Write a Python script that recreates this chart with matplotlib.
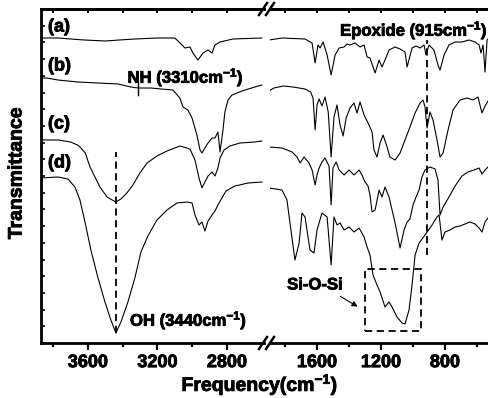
import numpy as np
import matplotlib
matplotlib.use("Agg")
import matplotlib.pyplot as plt
import matplotlib.patheffects as pe
from matplotlib.lines import Line2D
from matplotlib.patches import Rectangle

plt.rcParams['font.family'] = ['Liberation Sans', 'DejaVu Sans']
plt.rcParams['font.weight'] = 'bold'
plt.rcParams['mathtext.fontset'] = 'custom'
plt.rcParams['mathtext.rm'] = 'Liberation Sans:bold'
plt.rcParams['mathtext.bf'] = 'Liberation Sans:bold'
plt.rcParams['mathtext.it'] = 'Liberation Sans:bold'

# FTIR spectra: wavenumber (cm-1) and transmittance (a.u., stacked)
# high-frequency window
wn_a_hi = [3870, 3770, 3700, 3620, 3500, 3420, 3330, 3200, 3100, 3070, 3042, 3013, 2996, 2967,
           2938, 2909, 2886, 2869, 2840, 2766, 2600]
t_a_hi = [305, 305, 304, 303, 302, 303, 304, 305, 305, 300, 295, 296, 290, 283,
          290, 293, 290, 298, 301, 304, 305]

wn_b_hi = [3870, 3836, 3773, 3658, 3542, 3427, 3353, 3312, 3237, 3180, 3111, 3071, 3053, 3025,
           3001, 2973, 2955, 2944, 2927, 2909, 2886, 2869, 2852, 2840, 2823, 2812, 2794, 2771,
           2714, 2639, 2600]
t_b_hi = [265, 265, 263, 261, 260, 259, 256, 255, 255, 254, 253, 245, 236, 233,
          225, 208, 193, 190, 195, 200, 205, 205, 211, 191, 213, 231, 243, 248,
          252, 256, 258]

wn_c_hi = [3870, 3770, 3700, 3660, 3646, 3615, 3588, 3531, 3490, 3440, 3410, 3376, 3341, 3301,
           3260, 3203, 3145, 3071, 3013, 2984, 2961, 2944, 2927, 2909, 2886, 2869, 2852, 2840,
           2817, 2783, 2725, 2640, 2600]
t_c_hi = [203, 203, 201, 198, 196, 190, 176, 156, 146, 141, 144, 150, 158, 170,
          180, 187, 192, 197, 194, 183, 165, 155, 161, 167, 171, 167, 175, 185,
          193, 197, 200, 201, 202]

wn_d_hi = [3870, 3773, 3715, 3675, 3646, 3617, 3583, 3542, 3502, 3468, 3439, 3410, 3370, 3330,
           3295, 3255, 3203, 3145, 3088, 3030, 3001, 2984, 2961, 2944, 2927, 2909, 2886, 2869,
           2852, 2829, 2806, 2754, 2679, 2599]
t_d_hi = [165, 166, 164, 156, 143, 121, 93, 65, 41, 23, 10, 21, 41, 65,
          91, 107, 123, 133, 140, 141, 140, 128, 118, 121, 112, 122, 128, 132,
          138, 145, 152, 157, 160, 161]

# fingerprint window
wn_a_lo = [1900, 1819, 1675, 1631, 1612, 1594, 1581, 1562, 1537, 1512, 1487, 1462, 1431, 1412,
           1394, 1362, 1331, 1306, 1287, 1269, 1237, 1212, 1194, 1175, 1150, 1112, 1081, 1050,
           1037, 1006, 981, 956, 931, 919, 900, 869, 844, 831, 806, 775, 737, 694, 650, 612,
           587, 575, 562, 550, 537, 525]
t_a_lo = [303, 305, 304, 300, 280, 298, 295, 301, 288, 268, 288, 295, 296, 299,
          298, 300, 296, 298, 286, 285, 270, 283, 276, 283, 293, 296, 294, 291,
          276, 295, 297, 295, 298, 288, 298, 293, 278, 273, 288, 298, 301, 301, 303, 301,
          298, 290, 298, 271, 303, 305]

wn_b_lo = [1900, 1870, 1810, 1750, 1675, 1640, 1625, 1612, 1600, 1587, 1569, 1550, 1530, 1512,
           1494, 1475, 1456, 1437, 1418, 1394, 1369, 1350, 1331, 1306, 1281, 1256, 1244, 1225,
           1206, 1187, 1162, 1144, 1112, 1081, 1050, 1019, 987, 956, 937, 925, 912, 894, 875,
           850, 831, 812, 781, 750, 706, 662, 625, 594, 569, 550, 531]
t_b_lo = [252, 255, 257, 256, 254, 251, 245, 213, 238, 244, 237, 246, 231, 186,
          226, 238, 218, 207, 225, 235, 240, 230, 241, 228, 220, 211, 193, 186,
          200, 208, 196, 186, 183, 190, 203, 216, 230, 240, 243, 236, 215, 231, 223,
          203, 186, 190, 213, 233, 243, 245, 243, 246, 230, 237, 242]

wn_c_lo = [1900, 1819, 1756, 1725, 1706, 1681, 1650, 1631, 1612, 1600, 1587, 1569, 1550, 1525,
           1512, 1500, 1481, 1462, 1431, 1400, 1369, 1337, 1319, 1300, 1281, 1269, 1256, 1237,
           1212, 1194, 1175, 1150, 1131, 1112, 1081, 1056, 1037, 1019, 1000, 981, 962, 944,
           925, 894, 862, 844, 831, 812, 775, 737, 694, 656, 619, 587, 569, 550, 531]
t_c_lo = [196, 195, 191, 186, 180, 186, 180, 173, 158, 168, 175, 181, 185, 177,
          138, 175, 181, 173, 168, 173, 168, 173, 168, 161, 157, 148, 131, 133,
          153, 146, 156, 146, 133, 120, 95, 113, 121, 124, 138, 146, 153, 166,
          173, 176, 174, 163, 128, 136, 146, 157, 167, 171, 173, 175, 169, 173, 176]

wn_d_lo = [1900, 1819, 1788, 1769, 1738, 1712, 1694, 1675, 1644, 1619, 1600, 1569, 1537, 1512,
           1494, 1475, 1456, 1431, 1400, 1369, 1337, 1306, 1287, 1269, 1250, 1225, 1206, 1175,
           1150, 1131, 1100, 1069, 1050, 1025, 1006, 987, 962, 925, 881, 850, 837, 819, 800,
           769, 737, 706, 675, 644, 612, 587, 569, 550, 531]
t_d_lo = [155, 153, 143, 120, 83, 100, 130, 126, 93, 90, 113, 130, 126, 78,
          126, 118, 120, 113, 116, 111, 115, 106, 96, 88, 68, 58, 51, 36,
          41, 36, 26, 20, 19, 33, 58, 88, 100, 108, 118, 126, 128, 103, 111,
          113, 116, 117, 119, 121, 119, 115, 111, 121, 125]

hi_sets = [(wn_a_hi, t_a_hi), (wn_b_hi, t_b_hi), (wn_c_hi, t_c_hi), (wn_d_hi, t_d_hi)]
lo_sets = [(wn_a_lo, t_a_lo), (wn_b_lo, t_b_lo), (wn_c_lo, t_c_lo), (wn_d_lo, t_d_lo)]
tags = ['(a)', '(b)', '(c)', '(d)']
tag_y = [316, 277, 219, 180]

heavy = [pe.withStroke(linewidth=0.6, foreground='k')]

W, H = 489.0, 398.0
fig = plt.figure(figsize=(W / 100, H / 100), dpi=100)
ybot, ytop = 343, 9
axL = fig.add_axes([41 / W, (H - ybot) / H, (264 - 41) / W, (ybot - ytop) / H])
axR = fig.add_axes([270 / W, (H - ybot) / H, (489 - 270) / W, (ybot - ytop) / H])

for wn, t in hi_sets:
    axL.plot(wn, t, color='k', lw=0.8)
for wn, t in lo_sets:
    axR.plot(wn, t, color='k', lw=0.8)

axL.set_xlim(3870, 2587)
axR.set_xlim(1894, 525)
for ax in (axL, axR):
    ax.set_ylim(0, 334)

spine_w = 2.0
axL.spines['right'].set_visible(False)
axR.spines['left'].set_visible(False)
axR.spines['right'].set_visible(False)
for ax in (axL, axR):
    for s in ('top', 'bottom', 'left'):
        ax.spines[s].set_linewidth(spine_w)

axL.set_xticks([3600, 3200, 2800])
axL.set_xticks([3800, 3400, 3000], minor=True)
axR.set_xticks([1600, 1200, 800])
axR.set_xticks([1800, 1400, 1000, 600], minor=True)
for ax in (axL, axR):
    ax.tick_params(axis='x', which='major', direction='out', length=5, width=1.6,
                   labelsize=13, pad=3)
    ax.tick_params(axis='x', which='minor', direction='out', length=3, width=1.6)
    for lab in ax.get_xticklabels():
        lab.set_fontweight('bold')
        lab.set_path_effects(heavy)
    sec = ax.secondary_xaxis('top')
    sec.set_xticks(ax.get_xticks())
    sec.set_xticks(ax.get_xticks(minor=True), minor=True)
    sec.tick_params(axis='x', which='both', direction='in', length=3, width=1.4,
                    labeltop=False)
    sec.spines['top'].set_linewidth(spine_w)

axL.set_yticks(np.arange(0, 335, 16.7))
axL.tick_params(axis='y', which='major', direction='in', length=3, width=1.2, labelleft=False)
axR.tick_params(axis='y', left=False, labelleft=False)

# curve tags
for tag, ty in zip(tags, tag_y):
    axL.text(3830, ty, tag, fontsize=13, fontweight='bold', ha='left', va='center',
             path_effects=heavy)

# NH band
axL.text(3372, 266, 'NH (3310cm$^{-1}$)', fontsize=12, fontweight='bold', ha='left',
         va='center', path_effects=heavy)
axL.plot([3312, 3312], [248, 260], color='k', lw=1.0)

# OH band
axL.plot([3440, 3440], [10, 191], color='k', lw=1.3, ls=(0, (4, 2.5)))
axL.text(3358, 23, 'OH (3440cm$^{-1}$)', fontsize=12, fontweight='bold', ha='left',
         va='center', path_effects=heavy)

# epoxide band
axR.plot([912, 912], [88, 303], color='k', lw=1.3, ls=(0, (4, 2.5)))
axR.text(1456, 313, 'Epoxide (915cm$^{-1}$)', fontsize=12, fontweight='bold', ha='left',
         va='center', clip_on=False, path_effects=heavy)

# Si-O-Si box
axR.add_patch(Rectangle((1300, 12), 950 - 1300, 74 - 12, fill=False, ec='k', lw=1.3,
                        ls=(0, (4, 2.5))))
axR.text(1787, 58, 'Si-O-Si', fontsize=12, fontweight='bold', ha='left', va='center',
         path_effects=heavy)
axR.annotate('', xy=(1331, 35), xytext=(1469, 48),
             arrowprops=dict(arrowstyle='-|>', color='k', lw=0.8, mutation_scale=8))

# axis break marks
def brk(xc, yc):
    dx, dy = 4 / W, 6 / H
    fig.add_artist(Line2D([xc / W - dx, xc / W + dx], [1 - yc / H - dy, 1 - yc / H + dy],
                          color='k', lw=1.8))

for yy in (ytop, ybot):
    brk(263, yy)
    brk(270, yy)

fig.text(260 / W, 13 / H, 'Frequency(cm$^{-1}$)', fontsize=14, fontweight='bold',
         ha='center', va='center', path_effects=heavy)
fig.text(17 / W, 1 - 173 / H, 'Transmittance', fontsize=14, fontweight='bold',
         ha='center', va='center', rotation=90, path_effects=heavy)

fig.savefig('out.png', dpi=100)
